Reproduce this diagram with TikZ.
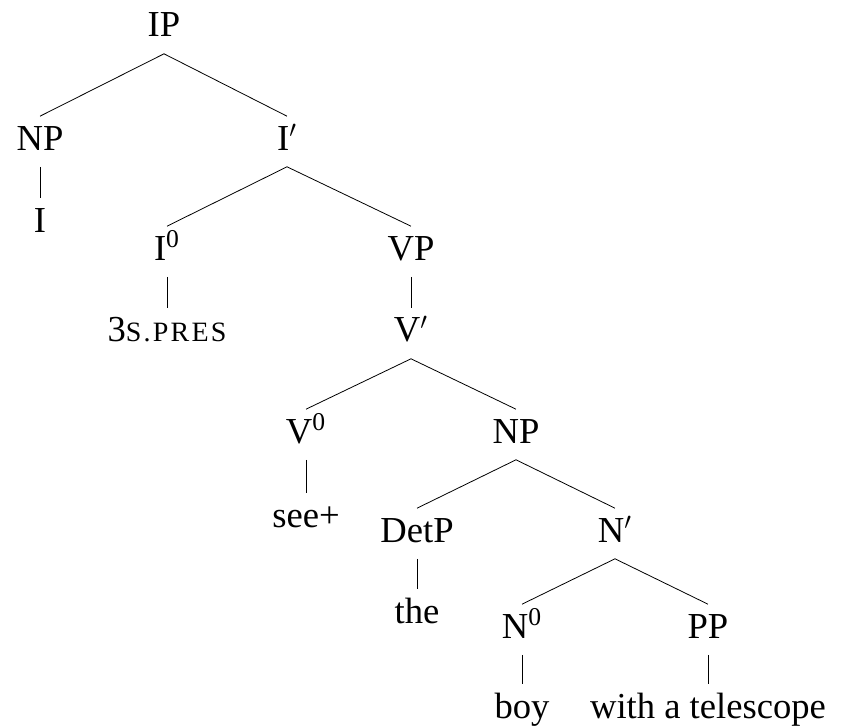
\documentclass[tikz,border=0pt]{standalone}
\usepackage{fontspec}
\setmainfont{Liberation Serif}
\newcommand{\smallcap}[1]{{\fontsize{14}{16}\selectfont\addfontfeature{LetterSpace=8}#1}}
\newcommand{\zerobar}{\textsuperscript{0}}
\begin{document}
\begin{tikzpicture}[x=0.5pt, y=-0.5pt,
        cat/.style={anchor=base, inner xsep=0pt, inner ysep=4.2pt, text height=12.5pt, text depth=4pt,
            font=\fontsize{18.3}{22}\selectfont}]
        \useasboundingbox (0, 0) rectangle (843, 728);

        \node[cat] (ip) at (164, 37) {IP};

        \node[cat] (np) at (40, 150) {NP};
        \node[cat] (ibar) at (287, 150) {I$'$};
        \node[cat] (pron) at (40, 232) {I};

        \node[cat] (izero) at (167, 260) {I\zerobar};
        \node[cat] (vp) at (411, 260) {VP};
        \node[cat] (infl) at (167, 342) {3\smallcap{S.PRES}};
        \node[cat] (vbar) at (411, 342) {V$'$};

        \node[cat] (vzero) at (306, 443) {V\zerobar};
        \node[cat] (obj) at (516, 443) {NP};
        \node[cat] (verb) at (306, 527) {see+};

        \node[cat] (det) at (417, 542) {DetP};
        \node[cat] (nbar) at (615, 542) {N$'$};
        \node[cat] (the) at (417, 623) {the};

        \node[cat] (nzero) at (522, 638) {N\zerobar};
        \node[cat] (pp) at (708, 638) {PP};
        \node[cat] (boy) at (522, 718) {boy};
        \node[cat] (tele) at (708, 718) {with a telescope};

        % branches
        \draw (ip.south) -- (np.north);
        \draw (ip.south) -- (ibar.north);
        \draw (np.south) -- (pron.north);
        \draw (ibar.south) -- (izero.north);
        \draw (ibar.south) -- (vp.north);
        \draw (izero.south) -- (infl.north);
        \draw (vp.south) -- (vbar.north);
        \draw (vbar.south) -- (vzero.north);
        \draw (vbar.south) -- (obj.north);
        \draw (vzero.south) -- (verb.north);
        \draw (obj.south) -- (det.north);
        \draw (obj.south) -- (nbar.north);
        \draw (det.south) -- (the.north);
        \draw (nbar.south) -- (nzero.north);
        \draw (nbar.south) -- (pp.north);
        \draw (nzero.south) -- (boy.north);
        \draw (pp.south) -- (tele.north);
    \end{tikzpicture}
\end{document}
